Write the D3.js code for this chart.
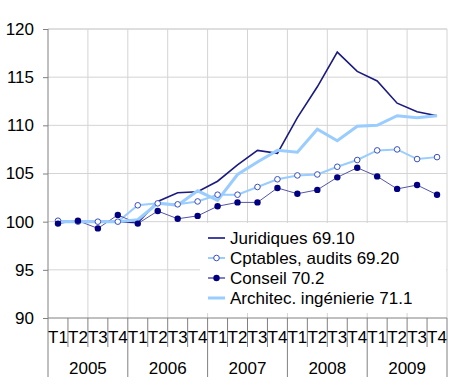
<!DOCTYPE html>
<html>
<head>
<meta charset="utf-8">
<script src="https://cdn.jsdelivr.net/npm/d3@7"></script>
<style>
  body { margin: 0; background: #fff; }
  text { font-family: "Liberation Sans", Arial, sans-serif; fill: #000; }
</style>
</head>
<body>
<svg id="chart" width="450" height="389"></svg>
<script>
var years = ['2005', '2006', '2007', '2008', '2009'];
var quarters = ['T1', 'T2', 'T3', 'T4'];
var yTicks = [90, 95, 100, 105, 110, 115, 120];

var juridiques = [100, 100, 100, 100, 99.9, 102.1, 103.0, 103.1, 104.2, 105.9, 107.4, 107.1, 110.8, 114.0, 117.6, 115.6, 114.6, 112.3, 111.4, 111.0];
var cptables   = [100.1, 100.0, 100.0, 100.0, 101.7, 101.9, 101.8, 102.1, 102.8, 102.8, 103.6, 104.4, 104.8, 104.9, 105.7, 106.4, 107.4, 107.5, 106.5, 106.7];
var conseil    = [99.8, 100.1, 99.3, 100.7, 99.8, 101.1, 100.3, 100.6, 101.6, 102.0, 102.0, 103.5, 102.9, 103.3, 104.6, 105.6, 104.7, 103.4, 103.8, 102.8];
var architec   = [100, 100, 100, 100, 100.2, 101.9, 101.7, 103.2, 102.2, 104.9, 106.2, 107.4, 107.2, 109.6, 108.4, 109.9, 110.0, 111.0, 110.8, 111.0];

var seriesNames = ['Juridiques 69.10', 'Cptables, audits 69.20', 'Conseil 70.2', 'Architec. ingénierie 71.1'];

var
  margin = {top: 29, right: 3, bottom: 71, left: 48},
  W = 450, H = 389,
  width = W - margin.left - margin.right,
  height = H - margin.top - margin.bottom,
  fontSize = '17px'
  ;

var categories = [];
years.forEach(y => quarters.forEach(q => categories.push(y + ' ' + q)));

var xScale = d3.scaleBand().domain(categories).range([0, width]).padding(0);
var yScale = d3.scaleLinear().domain([90, 120]).range([height, 0]);
var X = (d, i) => xScale(categories[i]) + xScale.bandwidth() / 2;
var Y = d => yScale(d);

var svg = d3.select('#chart');
var g = svg.append('g').attr('transform', 'translate(' + margin.left + ',' + margin.top + ')');

// horizontal grid
g.append('g').selectAll('line')
  .data(yTicks.filter(t => t > 90))
  .enter().append('line')
  .attr('x1', 0).attr('x2', width)
  .attr('y1', Y).attr('y2', Y)
  .attr('stroke', '#d4d4d4');

// vertical grid, every 2 quarters
var vgrid = categories.map((c, i) => i).filter(i => i % 2 === 0 && i > 0);
g.append('g').selectAll('line')
  .data(vgrid.concat([categories.length]))
  .enter().append('line')
  .attr('x1', i => i === categories.length ? width : xScale(categories[i]))
  .attr('x2', i => i === categories.length ? width : xScale(categories[i]))
  .attr('y1', 0).attr('y2', height)
  .attr('stroke', '#d4d4d4');

g.append('line').attr('x1', 0).attr('x2', width).attr('y1', 0).attr('y2', 0).attr('stroke', '#d4d4d4');

// y axis
var yAxis = d3.axisLeft(yScale).tickValues(yTicks).tickSize(5).tickPadding(9);
g.append('g').attr('class', 'axis axis--y').call(yAxis)
  .call(s => s.select('.domain').attr('stroke', '#808080').attr('d', 'M0,0V' + height))
  .call(s => s.selectAll('.tick line').attr('stroke', '#808080'))
  .call(s => s.selectAll('.tick text').style('font-size', fontSize).attr('font-family', null));

// x axis
var xa = g.append('g').attr('transform', 'translate(0,' + height + ')');
xa.append('line').attr('x1', 0).attr('x2', width).attr('stroke', '#808080');
xa.selectAll('.qsep')
  .data(d3.range(categories.length + 1))
  .enter().append('line')
  .attr('x1', i => i < categories.length ? xScale(categories[i]) : width)
  .attr('x2', i => i < categories.length ? xScale(categories[i]) : width)
  .attr('y1', 0)
  .attr('y2', i => i % 4 === 0 ? 59 : 29)
  .attr('stroke', '#808080');
xa.selectAll('.qlab')
  .data(categories)
  .enter().append('text')
  .attr('x', (d, i) => X(0, i))
  .attr('y', 25)
  .attr('text-anchor', 'middle')
  .style('font-size', fontSize)
  .text(d => d.split(' ')[1]);
xa.selectAll('.ylab')
  .data(years)
  .enter().append('text')
  .attr('x', (d, i) => xScale(d + ' T1') + xScale.bandwidth() * 2)
  .attr('y', 56)
  .attr('text-anchor', 'middle')
  .style('font-size', fontSize)
  .text(d => d);

// lines
var line = d3.line().x(X).y(Y);

g.append('path').datum(juridiques)
  .attr('d', line).attr('fill', 'none')
  .attr('stroke', '#1a1a80').attr('stroke-width', 1.6);

g.append('path').datum(cptables)
  .attr('d', line).attr('fill', 'none')
  .attr('stroke', '#99ccff').attr('stroke-width', 2);

g.append('path').datum(conseil)
  .attr('d', line).attr('fill', 'none')
  .attr('stroke', '#5555a6').attr('stroke-width', 1);

g.append('path').datum(architec)
  .attr('d', line).attr('fill', 'none')
  .attr('stroke', '#99ccff').attr('stroke-width', 3);

g.append('g').selectAll('circle')
  .data(cptables)
  .enter().append('circle')
  .attr('cx', X).attr('cy', Y).attr('r', 2.8)
  .attr('fill', '#fff').attr('stroke', '#3a4fc0').attr('stroke-width', 1);

g.append('g').selectAll('circle')
  .data(conseil)
  .enter().append('circle')
  .attr('cx', X).attr('cy', Y).attr('r', 3.2)
  .attr('fill', '#000080');

// legend
var leg = svg.append('g').attr('transform', 'translate(200,223)');
leg.append('rect').attr('width', 246).attr('height', 90).attr('fill', '#fff');
var styles = [
  {stroke: '#4444a0', w: 2, marker: null},
  {stroke: '#99ccff', w: 2, marker: 'hollow'},
  {stroke: '#000080', w: 1, marker: 'filled'},
  {stroke: '#99ccff', w: 3, marker: null}
];
var rows = leg.selectAll('.row')
  .data(seriesNames)
  .enter().append('g')
  .attr('transform', (d, i) => 'translate(0,' + (15 + i * 20) + ')');
rows.append('line')
  .attr('x1', 8).attr('x2', 25).attr('y1', 0).attr('y2', 0)
  .attr('stroke', (d, i) => styles[i].stroke)
  .attr('stroke-width', (d, i) => styles[i].w);
rows.filter((d, i) => styles[i].marker === 'hollow').append('circle')
  .attr('cx', 16.5).attr('r', 2.8).attr('fill', '#fff').attr('stroke', '#3a4fc0');
rows.filter((d, i) => styles[i].marker === 'filled').append('circle')
  .attr('cx', 16.5).attr('r', 3.2).attr('fill', '#000080');
rows.append('text')
  .attr('x', 30).attr('y', 6)
  .style('font-size', fontSize)
  .text(d => d);
</script>
</body>
</html>
